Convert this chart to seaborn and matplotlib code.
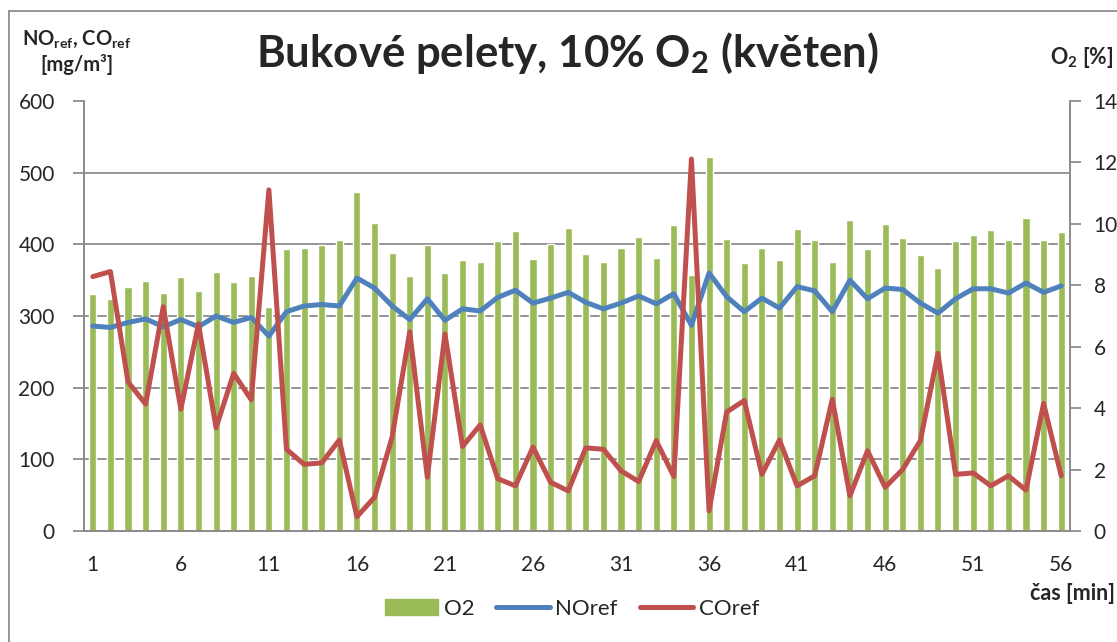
import numpy as np
import pandas as pd
import seaborn as sns
import matplotlib.pyplot as plt
from matplotlib.patches import Rectangle, Patch
from matplotlib.lines import Line2D

# Data
cas = list(range(1, 57))
o2 = [7.73, 7.55, 7.96, 8.15, 7.76, 8.28, 7.80, 8.44, 8.12, 8.29,
      7.29, 9.17, 9.22, 9.30, 9.46, 11.03, 10.02, 9.04, 8.29, 9.30,
      8.40, 8.82, 8.76, 9.45, 9.78, 8.86, 9.35, 9.85, 9.01, 8.75,
      9.22, 9.57, 8.88, 9.96, 8.32, 12.17, 9.50, 8.72, 9.22, 8.82,
      9.82, 9.48, 8.75, 10.11, 9.18, 9.99, 9.54, 9.00, 8.55, 9.45,
      9.65, 9.79, 9.48, 10.18, 9.46, 9.74]
no_ref = [286, 284, 291, 296, 285, 295, 285, 300, 291, 298,
          272, 306, 314, 316, 314, 353, 339, 314, 295, 324,
          294, 310, 307, 326, 336, 318, 325, 333, 319, 310,
          318, 328, 317, 331, 287, 360, 327, 306, 325, 311,
          341, 335, 306, 350, 324, 339, 337, 318, 304, 324,
          338, 338, 332, 346, 333, 342]
co_ref = [355, 362, 208, 177, 313, 170, 289, 144, 220, 183,
          476, 114, 93, 95, 127, 20, 47, 131, 278, 75,
          275, 118, 148, 73, 63, 117, 68, 56, 116, 114,
          84, 69, 126, 76, 519, 28, 166, 182, 79, 127,
          63, 77, 184, 49, 112, 61, 86, 126, 248, 79,
          81, 63, 77, 57, 178, 77]

df = pd.DataFrame({'cas': cas, 'O2': o2, 'NOref': no_ref, 'COref': co_ref})

GREEN = '#9BBB59'
BLUE = '#4F81BD'
RED = '#C0504D'
GRAY = '#8c8c8c'

sns.set_style('white')
plt.rcParams['font.family'] = ['Lato', 'DejaVu Sans']
plt.rcParams['mathtext.default'] = 'regular'

W, H = 1117, 642
fig = plt.figure(figsize=(W / 100, H / 100), dpi=100)
ax_bar = fig.add_axes([84 / W, 1 - 531 / H, (1070 - 84) / W, 430 / H])
ax = ax_bar.twinx()
ax_bar.yaxis.tick_right()
ax.yaxis.tick_left()

# O2 bars (right axis)
sns.barplot(data=df, x='cas', y='O2', color=GREEN, saturation=1, width=0.4,
            native_scale=True, ax=ax_bar, zorder=2)
# NOref / COref lines (left axis)
sns.lineplot(data=df, x='cas', y='NOref', color=BLUE, lw=3.6, ax=ax)
sns.lineplot(data=df, x='cas', y='COref', color=RED, lw=3.6, ax=ax)

ax.set_ylim(0, 600)
ax.set_yticks(range(0, 601, 100))
ax_bar.set_ylim(0, 14)
ax_bar.set_yticks(range(0, 15, 2))
ax_bar.set_yticks(np.linspace(0, 14, 7), minor=True)
ax_bar.grid(which='minor', axis='y', color=GRAY, lw=1.3)
ax_bar.set_axisbelow(True)

ax_bar.set_xlim(0.5, 56.5)
ax_bar.set_xticks(range(1, 57, 5))
ax_bar.set_xticks(np.arange(0.5, 57, 1), minor=True)

for a in (ax, ax_bar):
    a.set_xlabel('')
    a.set_ylabel('')
    a.spines['top'].set_visible(False)
    for s in ('left', 'right', 'bottom'):
        a.spines[s].set_color(GRAY)
        a.spines[s].set_linewidth(1.3)

ax_bar.tick_params(axis='x', which='major', length=0, pad=17, labelsize=15)
ax_bar.tick_params(axis='x', which='minor', length=8, color=GRAY, width=1.3)
ax_bar.tick_params(axis='y', which='major', length=8, color=GRAY, width=1.3,
                   pad=9, labelsize=15)
ax_bar.tick_params(axis='y', which='minor', length=0)
ax.tick_params(axis='y', length=8, color=GRAY, width=1.3, pad=13, labelsize=15)

# texts
fig.text(567 / W, 1 - 67 / H, 'Bukové pelety, 10% O$_2$ (květen)',
         ha='center', va='baseline', fontsize=31.5, weight='bold')
fig.text(77 / W, 1 - 52 / H, 'NO$_{ref}$, CO$_{ref}$\n[mg/m³]',
         ha='center', va='center', fontsize=14.5, weight='bold', linespacing=1.25)
fig.text(1082 / W, 1 - 58 / H, 'O$_2$ [%]', ha='center', va='center',
         fontsize=15.5, weight='bold')
fig.text(1073 / W, 1 - 593 / H, 'čas [min]', ha='center', va='center',
         fontsize=15.5, weight='bold')

handles = [Patch(color=GREEN), Line2D([], [], color=BLUE, lw=3.6),
           Line2D([], [], color=RED, lw=3.6)]
fig.legend(handles, ['O2', 'NOref', 'COref'], loc='center',
           bbox_to_anchor=(572 / W, 1 - 609 / H), ncol=3, frameon=False,
           fontsize=16, handlelength=2.4, handletextpad=0.25, columnspacing=1.0)

# outer chart border
fig.patches.append(Rectangle((9 / W, -0.1), 1.2, 1.1 - 11 / H, fill=False,
                             edgecolor=GRAY, lw=1.3, transform=fig.transFigure))

fig.savefig('out.png', dpi=100)
